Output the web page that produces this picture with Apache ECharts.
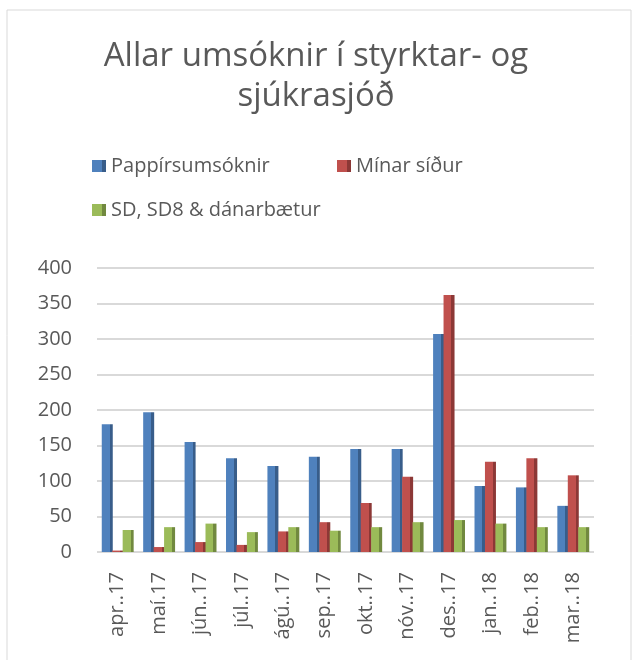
<!DOCTYPE html>
<html>
<head>
<meta charset="utf-8">
<script src="https://cdn.jsdelivr.net/npm/echarts@6/dist/echarts.min.js"></script>
<style>
  html, body { margin: 0; padding: 0; background: #fff; }
  #chart { width: 632px; height: 660px; }
</style>
</head>
<body>
<div id="chart"></div>
<script>
// mánuðir
var months = ['apr..17', 'maí.17', 'jún..17', 'júl..17', 'ágú..17', 'sep..17', 'okt..17', 'nóv..17', 'des..17', 'jan..18', 'feb..18', 'mar..18'];
var pappir = [180, 197, 155, 132, 121, 134, 145, 145, 307, 93, 91, 65];
var minar = [2, 7, 14, 10, 29, 42, 69, 106, 362, 127, 132, 108];
var sdDanar = [31, 35, 40, 28, 35, 30, 35, 42, 45, 40, 35, 35];
var seriesNames = ['Pappírsumsóknir', 'Mínar síður', 'SD, SD8 & dánarbætur'];

var font = 'Open Sans';
var textColor = '#595959';

// fake 3d look: dark strip on the right side of the bar
function face(main, dark) {
  return new echarts.graphic.LinearGradient(0, 0, 1, 0, [
    { offset: 0, color: main },
    { offset: 0.72, color: main },
    { offset: 0.72, color: dark },
    { offset: 1, color: dark }
  ]);
}

var myChart = echarts.init(document.getElementById('chart'));
myChart.setOption({
  animation: false,
  color: ['#4f81bd', '#c0504d', '#9bbb59'],
  title: {
    text: 'Allar umsóknir í styrktar- og\nsjúkrasjóð',
    left: 'center',
    top: 32,
    textStyle: { fontFamily: font, fontSize: 33, fontWeight: 'normal', color: textColor, lineHeight: 40 }
  },
  legend: [
    { left: 87, top: 151, data: [seriesNames[0]] },
    { left: 332, top: 151, data: [seriesNames[1]] },
    { left: 87, top: 195, data: [seriesNames[2]] }
  ].map(function (l) {
    l.icon = 'rect';
    l.itemWidth = 14;
    l.itemHeight = 12;
    l.itemGap = 5;
    l.textStyle = { fontFamily: font, fontSize: 20, color: textColor };
    return l;
  }),
  graphic: [{
    type: 'rect',
    shape: { x: 7, y: 10, width: 624, height: 660 },
    style: { fill: 'none', stroke: '#d9d9d9', lineWidth: 1 },
    silent: true
  }],
  grid: { left: 97, right: 38, top: 268, bottom: 108 },
  xAxis: {
    type: 'category',
    data: months,
    axisLine: { show: false },
    axisTick: { show: false },
    axisLabel: { rotate: 90, margin: 20, fontFamily: font, fontSize: 20, color: textColor }
  },
  yAxis: {
    type: 'value',
    min: 0,
    max: 400,
    interval: 50,
    axisLine: { show: false },
    axisTick: { show: false },
    axisLabel: { margin: 25, fontFamily: font, fontSize: 20, color: textColor },
    splitLine: { lineStyle: { color: '#d9d9d9', width: 2 } }
  },
  series: [
    { name: seriesNames[0], type: 'bar', data: pappir, barWidth: 11, barGap: '-5%',
      itemStyle: { color: face('#4f81bd', '#385d8a') } },
    { name: seriesNames[1], type: 'bar', data: minar, barWidth: 11, barGap: '-5%',
      itemStyle: { color: face('#c0504d', '#8c3836') } },
    { name: seriesNames[2], type: 'bar', data: sdDanar, barWidth: 11, barGap: '-5%',
      itemStyle: { color: face('#9bbb59', '#71893f') } }
  ]
});
</script>
</body>
</html>
